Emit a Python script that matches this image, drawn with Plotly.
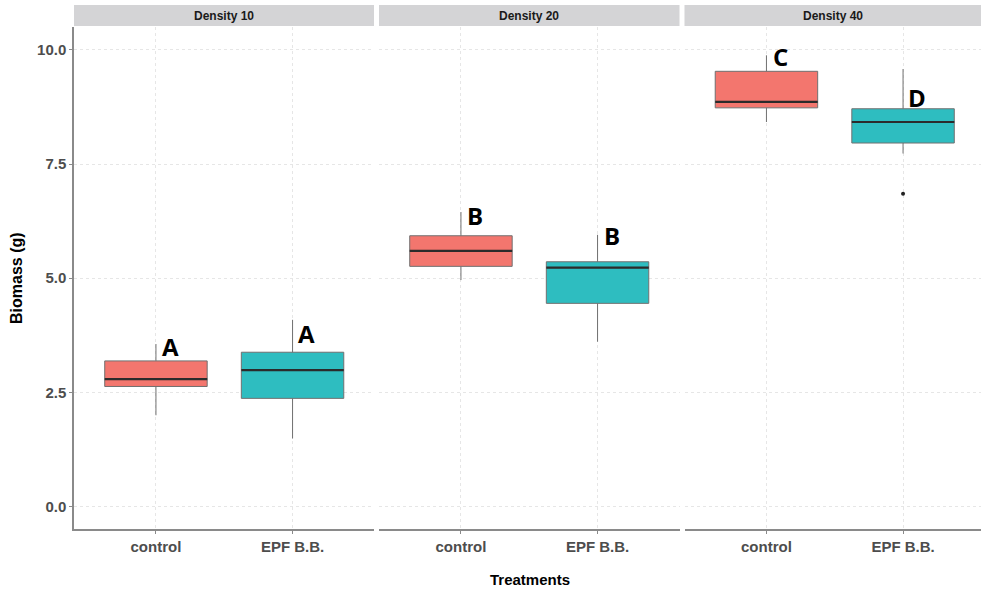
import plotly.graph_objects as go

# Biomass (g) summary statistics per planting density and treatment
densities = ["Density 10", "Density 20", "Density 40"]
treatments = ["control", "EPF B.B."]
treatment_pos = [1, 2]

# rows: density, columns: treatment (control, EPF B.B.)
q1 = [[2.63, 2.37], [5.26, 4.45], [8.73, 7.96]]
median = [[2.79, 2.99], [5.60, 5.23], [8.86, 8.42]]
q3 = [[3.19, 3.38], [5.93, 5.36], [9.53, 8.71]]
lower_whisker = [[2.00, 1.49], [4.96, 3.61], [8.42, 7.73]]
upper_whisker = [[3.56, 4.09], [6.45, 5.95], [9.88, 9.58]]

# outliers: (density index, treatment index, value)
outliers = [(2, 1, 6.85)]

# significance groups
letters = [["A", "A"], ["B", "B"], ["C", "D"]]
letter_y = [[3.50, 3.80], [6.37, 5.93], [9.85, 8.96]]

y_ticks = [0.0, 2.5, 5.0, 7.5, 10.0]

fill_colors = ["#F3766E", "#2EBDC0"]

W, H = 981, 591
ML, MR, MT, MB = 74, 0, 27, 62
plot_w = W - ML - MR
plot_h = H - MT - MB

# panel extents in pixels from the left of the plotting area
panel_px = [(0, 300), (305, 605.5), (610.5, 907)]
panel_unit_px = 300.5 / 2.2
box_width = 0.75

fig = go.Figure()

grid_col = "#E6E6E6"
axis_col = "#8A8A8A"
tick_font = dict(family="Liberation Sans, Arial, sans-serif", size=15,
                 color="#4D4D4D", weight="bold")

for i, dens in enumerate(densities):
    sfx = "" if i == 0 else str(i + 1)
    xa, ya = "x" + sfx, "y" + sfx
    for j, trt in enumerate(treatments):
        fig.add_trace(go.Box(
            x=[treatment_pos[j]],
            q1=[q1[i][j]], median=[median[i][j]], q3=[q3[i][j]],
            lowerfence=[lower_whisker[i][j]], upperfence=[upper_whisker[i][j]],
            width=box_width, whiskerwidth=0, boxpoints=False,
            fillcolor=fill_colors[j],
            line=dict(color="#707070", width=1),
            xaxis=xa, yaxis=ya, showlegend=False, hoverinfo="skip",
        ))
        # thicker median bar on top of the box
        fig.add_trace(go.Scatter(
            x=[treatment_pos[j] - box_width / 2, treatment_pos[j] + box_width / 2],
            y=[median[i][j], median[i][j]],
            mode="lines", line=dict(color="#2B2B2B", width=2.2),
            xaxis=xa, yaxis=ya, showlegend=False, hoverinfo="skip",
        ))
        fig.add_annotation(
            x=treatment_pos[j] + 0.105, y=letter_y[i][j], xref=xa, yref=ya,
            text=letters[i][j], showarrow=False,
            font=dict(family="Open Sans, sans-serif", size=24, color="black",
                      weight="bold"),
            xanchor="center", yanchor="middle",
        )

    # panel geometry
    p0, p1 = panel_px[i]
    x_end = 0.4 + (p1 - p0) / panel_unit_px
    fig.layout["xaxis" + sfx] = dict(
        domain=[p0 / plot_w, p1 / plot_w], anchor=ya,
        range=[0.4, x_end], tickvals=treatment_pos, ticktext=treatments,
        showgrid=True, gridcolor=grid_col, griddash="dot", gridwidth=1,
        showline=True, linecolor=axis_col, linewidth=1.5,
        ticks="outside", ticklen=3, tickcolor=axis_col, tickwidth=1,
        tickfont=tick_font, zeroline=False, fixedrange=True,
    )
    fig.layout["yaxis" + sfx] = dict(
        domain=[0, 1], anchor=xa, range=[-0.49, 10.5],
        tickvals=y_ticks, tickformat=".1f",
        showgrid=True, gridcolor=grid_col, griddash="dot", gridwidth=1,
        showline=(i == 0), linecolor=axis_col, linewidth=1.5,
        ticks="outside" if i == 0 else "", ticklen=3, tickcolor=axis_col,
        showticklabels=(i == 0), tickfont=tick_font, zeroline=False,
        fixedrange=True,
    )

    # facet strip
    fig.add_shape(type="rect", xref="paper", yref="paper",
                  x0=p0 / plot_w, x1=p1 / plot_w,
                  y0=1 + 1 / plot_h, y1=1 + 22 / plot_h,
                  fillcolor="#D4D4D6", line=dict(width=0), layer="below")
    fig.add_annotation(x=(p0 + p1) / 2 / plot_w, y=1 + 11.5 / plot_h,
                       xref="paper", yref="paper", text=dens, showarrow=False,
                       font=dict(family="Liberation Sans, Arial, sans-serif",
                                 size=12, color="#1A1A1A", weight="bold"),
                       xanchor="center", yanchor="middle")

for (di, tj, val) in outliers:
    sfx = "" if di == 0 else str(di + 1)
    fig.add_trace(go.Scatter(
        x=[treatment_pos[tj]], y=[val], mode="markers",
        marker=dict(color="#222222", size=4),
        xaxis="x" + sfx, yaxis="y" + sfx, showlegend=False, hoverinfo="skip",
    ))

# axis titles
fig.add_annotation(x=(529.5 - ML) / plot_w, y=-(579 - (MT + plot_h)) / plot_h,
                   xref="paper", yref="paper", text="Treatments", showarrow=False,
                   font=dict(family="Liberation Sans, Arial, sans-serif", size=15,
                             color="black", weight="bold"),
                   xanchor="center", yanchor="middle")
fig.add_annotation(x=-(ML - 16) / plot_w, y=0.5, xref="paper", yref="paper",
                   text="Biomass (g)", showarrow=False, textangle=-90,
                   font=dict(family="Liberation Sans, Arial, sans-serif", size=16,
                             color="black", weight="bold"),
                   xanchor="center", yanchor="middle")

fig.update_layout(
    width=W, height=H,
    margin=dict(l=ML, r=MR, t=MT, b=MB, pad=0),
    paper_bgcolor="white", plot_bgcolor="white",
    showlegend=False,
)

fig.write_html("out.html")
